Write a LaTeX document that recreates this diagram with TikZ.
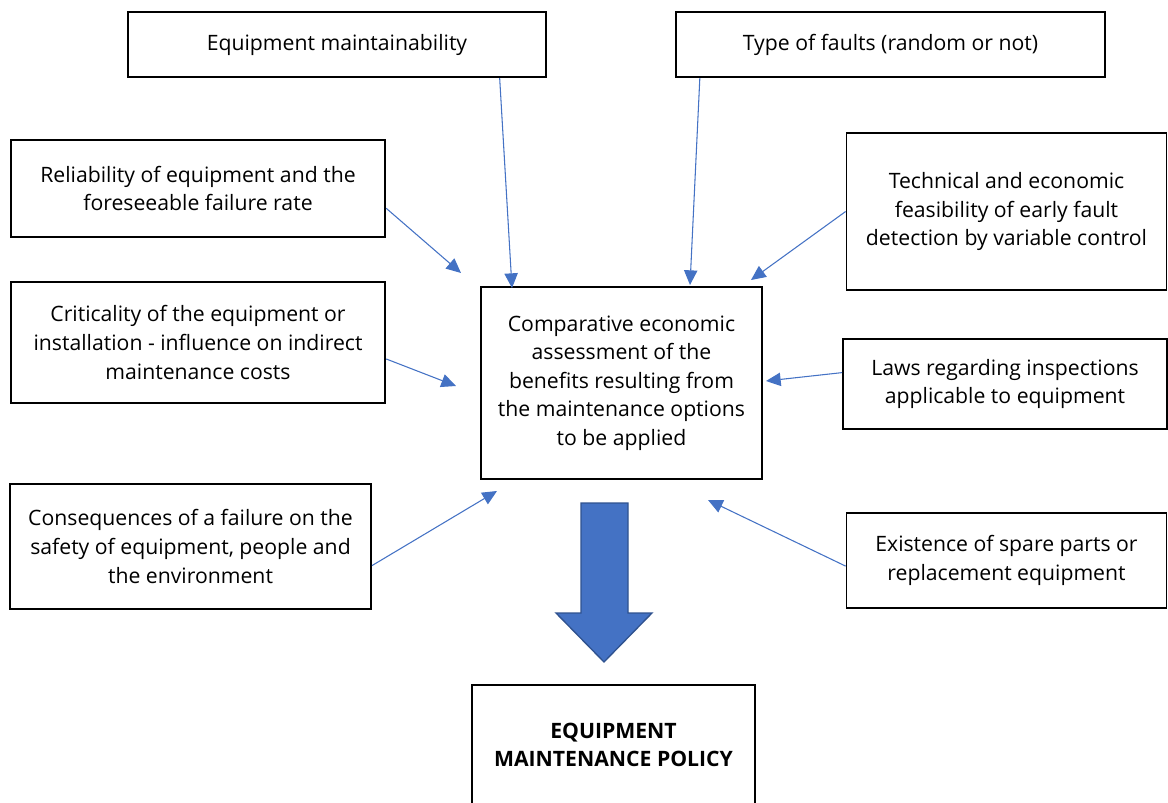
\documentclass[tikz,border=0pt]{standalone}
\usepackage{fontspec}
\setmainfont{Open Sans}
\usetikzlibrary{arrows.meta}

\definecolor{officeblue}{HTML}{4472C4}
\definecolor{officeblueline}{HTML}{2F528F}

\tikzstyle{factor} = [rectangle, draw=black, line width=1.3pt, align=center, inner sep=0pt, font=\fontsize{15.9}{21.4}\selectfont]
\tikzstyle{infl} = [-{Triangle[length=11pt,width=10pt]}, color=officeblue, line width=0.8pt]

\begin{document}
\begin{tikzpicture}[x=0.75pt, y=-0.75pt]
    \useasboundingbox (0,0) rectangle (1168,803);
    %\draw[step=50,gray,very thin] (0,0) grid (1168,803);
	\node (maint) at (337,44.5) [factor, minimum width=314pt, minimum height=49pt] {Equipment maintainability};
	\node (faults) at (890.5,44.5) [factor, minimum width=322pt, minimum height=49pt] {Type of faults (random or not)};
	\node (reliab) at (198,188.5) [factor, minimum width=281pt, minimum height=73pt] {Reliability of equipment and the\\foreseeable failure rate};
	\node (critic) at (198,342.5) [factor, minimum width=281pt, minimum height=91pt] {Criticality of the equipment or\\installation - influence on indirect\\maintenance costs};
	\node (conseq) at (190.5,546.5) [factor, minimum width=271pt, minimum height=94pt] {Consequences of a failure on the\\safety of equipment, people and\\the environment};
	\node (detect) at (1006.5,211.5) [factor, minimum width=240pt, minimum height=118pt] {Technical and economic\\feasibility of early fault\\detection by variable control};
	\node (laws) at (1005,384) [factor, minimum width=243pt, minimum height=68pt] {Laws regarding inspections\\applicable to equipment};
	\node (spare) at (1006.5,560.5) [factor, minimum width=240pt, minimum height=71pt] {Existence of spare parts or\\replacement equipment};
	\node (assess) at (621.5,383) [factor, minimum width=211pt, minimum height=144pt] {Comparative economic\\assessment of the\\benefits resulting from\\the maintenance options\\to be applied};
	\node (policy) at (613.5,745) [factor, minimum width=212pt, minimum height=90pt, font=\fontsize{15.9}{21.4}\selectfont\bfseries] {EQUIPMENT\\MAINTENANCE POLICY};

	% arrow tips end short of the centre box
	\coordinate (tmaint) at (512,288);
	\coordinate (tfaults) at (690,285);
	\coordinate (treliab) at (461,273);
	\coordinate (tcritic) at (456,386);
	\coordinate (tconseq) at (497,491);
	\coordinate (tdetect) at (751,280);
	\coordinate (tlaws) at (766,381);
	\coordinate (tspare) at (708,500);

	\draw [infl] ([xshift=122pt]maint.south) -- (tmaint);
	\draw [infl] ([xshift=-143pt]faults.south) -- (tfaults);
	\draw [infl] (reliab.-6.2) -- (treliab);
	\draw [infl] (critic.-5.6) -- (tcritic);
	\draw [infl] (conseq.-6.5) -- (tconseq);
	\draw [infl] (detect.west) -- (tdetect);
	\draw [infl] (laws.176.1) -- (tlaws);
	\draw [infl] (spare.-178) -- (tspare);

	% big block arrow
	\draw [fill=officeblue, draw=officeblueline, line width=1pt] (581,503) -- (628,503) -- (628,613) -- (652,613) -- (604,662) -- (556,613) -- (581,613) -- cycle;
\end{tikzpicture}
\end{document}
